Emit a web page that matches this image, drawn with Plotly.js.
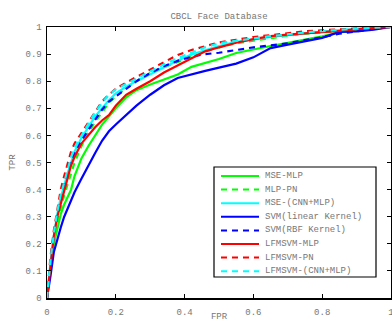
<!DOCTYPE html>
<html><head><meta charset="utf-8">
<script src="https://cdn.plot.ly/plotly-3.0.1.min.js"></script>
<style>html,body{margin:0;padding:0;background:#fff}#chart{width:392px;height:322px}</style>
</head><body><div id="chart"></div>
<script>
const fpr = [0,0.005,0.01,0.02,0.03,0.04,0.05,0.06,0.07,0.08,0.1,0.12,0.14,0.16,0.18,0.2,0.23,0.26,0.3,0.34,0.38,0.42,0.46,0.5,0.55,0.6,0.65,0.7,0.75,0.8,0.85,0.9,0.95,1.0];
const mseMLP   = [0,.07,.12,.20,.26,.31,.345,.37,.40,.45,.515,.56,.60,.64,.67,.70,.74,.767,.788,.806,.825,.853,.868,.882,.904,.918,.93,.942,.953,.966,.98,.988,.994,1];
const mlpPN    = [0,.06,.11,.20,.27,.33,.38,.42,.46,.50,.56,.61,.65,.685,.72,.745,.775,.80,.83,.852,.87,.89,.91,.925,.94,.95,.96,.968,.975,.98,.987,.992,.996,1];
const mseCNN   = [0,.07,.13,.23,.31,.37,.42,.46,.50,.54,.59,.63,.67,.70,.73,.755,.78,.80,.826,.852,.876,.898,.915,.93,.945,.955,.963,.97,.977,.983,.988,.993,.997,1];
const svmLin   = [0,.05,.08,.17,.22,.26,.30,.33,.36,.39,.44,.49,.535,.58,.615,.64,.675,.71,.75,.785,.812,.826,.838,.85,.865,.888,.922,.935,.948,.96,.982,.984,.99,1];
const svmRBF   = [0,.07,.13,.24,.31,.37,.42,.46,.50,.53,.58,.62,.66,.695,.725,.745,.772,.80,.83,.855,.875,.89,.90,.905,.915,.925,.932,.94,.952,.962,.975,.985,.993,1];
const lfmMLP   = [0,.06,.11,.23,.30,.35,.40,.44,.49,.52,.57,.60,.63,.655,.675,.71,.75,.772,.80,.832,.858,.885,.91,.925,.942,.955,.966,.972,.976,.98,.986,.992,.997,1];
const lfmPN    = [0,.08,.15,.25,.33,.40,.45,.50,.54,.57,.61,.65,.69,.725,.75,.772,.795,.815,.842,.868,.897,.915,.93,.943,.953,.963,.97,.978,.984,.988,.992,.995,.998,1];
const lfmCNN   = [0,.07,.14,.24,.32,.38,.43,.48,.52,.555,.60,.645,.685,.72,.75,.77,.79,.81,.836,.862,.885,.905,.925,.94,.95,.958,.966,.974,.98,.985,.99,.994,.997,1];

const names  = ["MSE-MLP","MLP-PN","MSE-(CNN+MLP)","SVM(linear Kernel)","SVM(RBF Kernel)","LFMSVM-MLP","LFMSVM-PN","LFMSVM-(CNN+MLP)"];
const series = [mseMLP, mlpPN, mseCNN, svmLin, svmRBF, lfmMLP, lfmPN, lfmCNN];
const colors = ["#00ff00","#00ff00","#00ffff","#0000ff","#0000ff","#ff0000","#ff0000","#00ffff"];
const dashes = ["solid","6px,5px","solid","solid","6px,5px","solid","6px,5px","6px,5px"];
const xTicks = [0,0.2,0.4,0.6,0.8,1];
const yTicks = [0,0.1,0.2,0.3,0.4,0.5,0.6,0.7,0.8,0.9,1];

const FONT = "Liberation Mono";
const GRAY = "#777";
const traces = series.map((s,i)=>({
  x: fpr, y: s, type:"scatter", mode:"lines", name: names[i], showlegend:false,
  line:{color:colors[i], width:2.2, dash:dashes[i]}
}));

// custom legend (paper coords from plot-area pixels)
const L=47, T=27, W=344, H=271;
const px = x => (x-L)/W, py = y => (T+H-y)/H;
const shapes = [{type:"rect", xref:"paper", yref:"paper", x0:px(214), x1:px(376), y0:py(167), y1:py(277),
  line:{color:"#000", width:1.2}, fillcolor:"#fff", layer:"above"}];
const annotations = [];
names.forEach((n,i)=>{
  const yy = 176 + i*13.6;
  shapes.push({type:"line", xref:"paper", yref:"paper", x0:px(221), x1:px(259), y0:py(yy), y1:py(yy),
    line:{color:colors[i], width:2, dash:dashes[i]}, layer:"above"});
  annotations.push({xref:"paper", yref:"paper", x:px(263), y:py(yy), text:n, showarrow:false,
    xanchor:"left", yanchor:"middle", font:{family:FONT, size:9, color:GRAY}});
});

const axisCommon = {showgrid:false, zeroline:false, showline:true, linecolor:"#000", linewidth:1.5,
  mirror:"ticks", ticks:"inside", ticklen:4, tickcolor:"#000", tickwidth:1,
  ticklabeloverflow:"allow", tickfont:{family:FONT, size:9, color:GRAY}};

const layout = {
  width:392, height:322, margin:{l:47, r:1, t:27, b:24},
  paper_bgcolor:"#fff", plot_bgcolor:"#fff", showlegend:false,
  title:{text:"CBCL Face Database", font:{family:FONT, size:9, color:GRAY}, x:0.5, xref:"paper", y:1-16/322, yref:"container", yanchor:"middle"},
  xaxis:Object.assign({}, axisCommon, {range:[0,1], tickvals:xTicks, ticktext:xTicks.map(v=>String(v)), ticklabelstandoff:5,
    title:{text:"FPR", font:{family:FONT, size:9, color:GRAY}, standoff:11}}),
  yaxis:Object.assign({}, axisCommon, {range:[0,1], tickvals:yTicks, ticktext:yTicks.map(v=>String(v)), ticklabelstandoff:2,
    title:{text:"TPR", font:{family:FONT, size:9, color:GRAY}, standoff:8}}),
  shapes:shapes, annotations:annotations
};
Plotly.newPlot("chart", traces, layout, {staticPlot:true, displayModeBar:false});
</script></body></html>
